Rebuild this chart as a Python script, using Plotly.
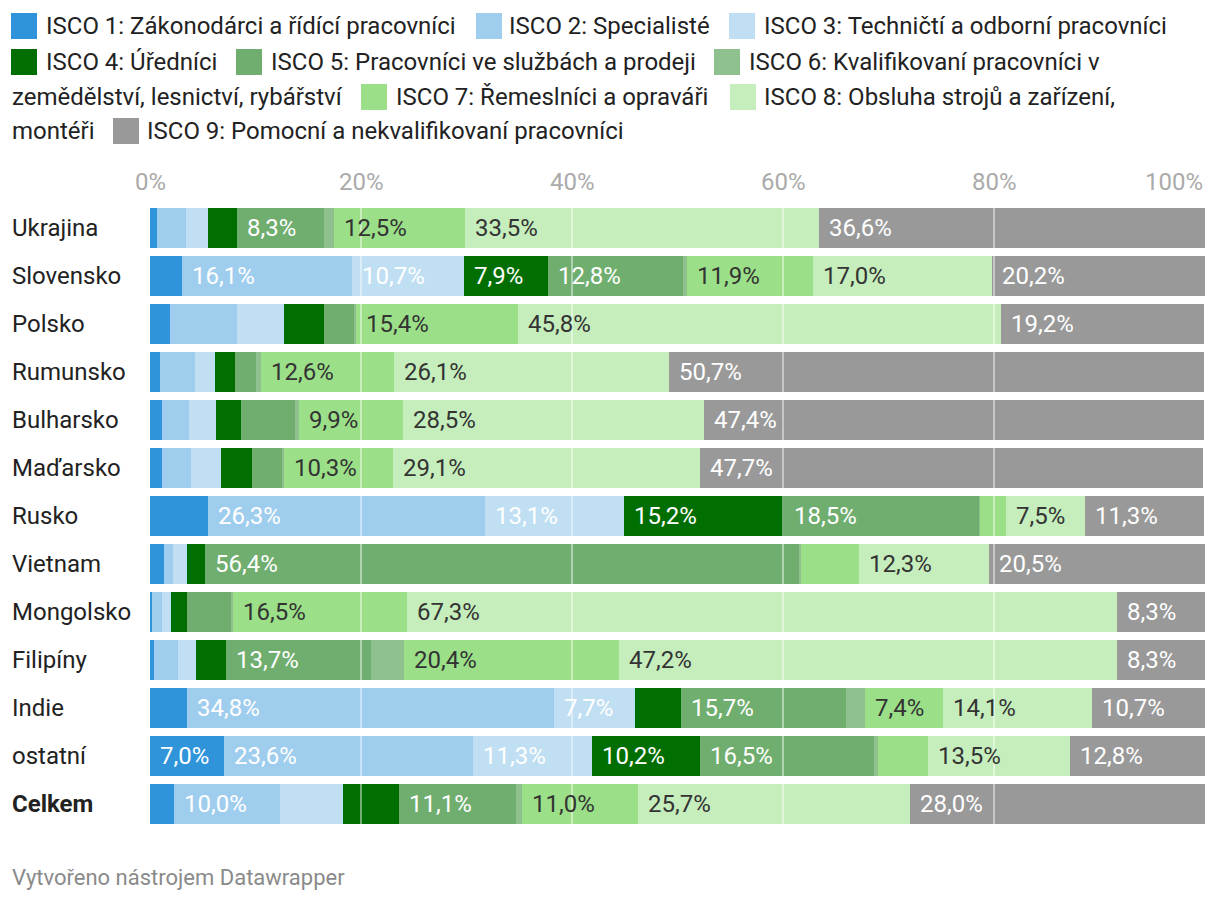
import plotly.graph_objects as go

countries = ["Ukrajina", "Slovensko", "Polsko", "Rumunsko", "Bulharsko", "Maďarsko",
             "Rusko", "Vietnam", "Mongolsko", "Filipíny", "Indie", "ostatní", "Celkem"]

series_names = [
    "ISCO 1: Zákonodárci a řídící pracovníci",
    "ISCO 2: Specialisté",
    "ISCO 3: Techničtí a odborní pracovníci",
    "ISCO 4: Úředníci",
    "ISCO 5: Pracovníci ve službách a prodeji",
    "ISCO 6: Kvalifikovaní pracovníci v zemědělství, lesnictví, rybářství",
    "ISCO 7: Řemeslníci a opraváři",
    "ISCO 8: Obsluha strojů a zařízení, montéři",
    "ISCO 9: Pomocní a nekvalifikovaní pracovníci",
]

isco1 = [0.7, 3.0, 1.9, 0.9, 1.1, 1.1, 5.5, 1.3, 0.2, 0.4, 3.5, 7.0, 2.3]
isco2 = [2.7, 16.1, 6.3, 3.4, 2.6, 2.8, 26.3, 0.9, 0.9, 2.3, 34.8, 23.6, 10.0]
isco3 = [2.1, 10.7, 4.5, 1.9, 2.6, 2.8, 13.1, 1.3, 0.9, 1.7, 7.7, 11.3, 6.0]
isco4 = [2.7, 7.9, 3.8, 1.9, 2.3, 3.0, 15.2, 1.7, 1.5, 2.8, 4.3, 10.2, 5.3]
isco5 = [8.3, 12.8, 2.8, 1.9, 5.1, 2.8, 18.5, 56.4, 4.2, 13.7, 15.7, 16.5, 11.1]
isco6 = [0.9, 0.4, 0.2, 0.5, 0.4, 0.2, 0.1, 0.1, 0.2, 3.2, 1.8, 0.4, 0.6]
isco7 = [12.5, 11.9, 15.4, 12.6, 9.9, 10.3, 2.4, 5.5, 16.5, 20.4, 7.4, 4.7, 11.0]
isco8 = [33.5, 17.0, 45.8, 26.1, 28.5, 29.1, 7.5, 12.3, 67.3, 47.2, 14.1, 13.5, 25.7]
isco9 = [36.6, 20.2, 19.2, 50.7, 47.4, 47.7, 11.3, 20.5, 8.3, 8.3, 10.7, 12.8, 28.0]

x_ticks = [0, 20, 40, 60, 80, 100]
x_tick_labels = ["0%", "20%", "40%", "60%", "80%", "100%"]

series = [isco1, isco2, isco3, isco4, isco5, isco6, isco7, isco8, isco9]
colors = ["#2f94da", "#9fcdee", "#c0dff3", "#006e00", "#6fae6f", "#8fc18f",
          "#9be088", "#c6eebc", "#999999"]
label_colors = ["#ffffff"] * 6 + ["#333333", "#333333", "#ffffff"]

FONT = "Roboto"
FS = 24
W, H = 1220, 900
ML, MR, MT, MB = 150, 15, 204, 72
PW, PH = W - ML - MR, H - MT - MB


def px_x(px):
    return (px - ML) / PW


def px_y(py):
    return (H - MB - py) / PH


fig = go.Figure()
for name, vals, col in zip(series_names, series, colors):
    fig.add_trace(go.Bar(
        y=countries, x=vals, name=name, orientation="h",
        marker=dict(color=col, line=dict(width=0)),
        hoverinfo="x+name", showlegend=False,
    ))

annotations = []
# value labels inside segments
for i, c in enumerate(countries):
    base = 0.0
    for k, vals in enumerate(series):
        v = vals[i]
        if v >= 7.0:
            annotations.append(dict(
                x=base, y=c, xref="x", yref="y", xanchor="left", yanchor="middle",
                text=f"{v:.1f}".replace(".", ",") + "%", showarrow=False, xshift=8,
                font=dict(family=FONT, size=FS, color=label_colors[k]),
            ))
        base += v

# category labels (left aligned)
for c in countries:
    txt = f"<b>{c}</b>" if c == "Celkem" else c
    annotations.append(dict(
        x=0, y=c, xref="paper", yref="y", xanchor="left", yanchor="middle",
        xshift=-(ML - 10), text=txt, showarrow=False,
        font=dict(family=FONT, size=FS, color="#222222"),
    ))

# top tick labels
for t, lab in zip(x_ticks, x_tick_labels):
    annotations.append(dict(
        x=t, y=1, xref="x", yref="paper", yanchor="bottom",
        xanchor="right" if t == 100 else "center", yshift=6,
        text=lab, showarrow=False, font=dict(family=FONT, size=FS, color="#aaaaaa"),
    ))

shapes = []
# gridlines above bars
for t in x_ticks[1:-1]:
    shapes.append(dict(type="line", xref="x", yref="paper", x0=t, x1=t, y0=0, y1=1,
                       line=dict(color="rgba(255,255,255,0.45)", width=2), layer="above"))

# manual legend (flowing text like the original)
leg_items = [
    # (color index, square x, text x, line center y, text)
    (0, 11, 44, 26, "ISCO 1: Zákonodárci a řídící pracovníci"),
    (1, 476, 507, 26, "ISCO 2: Specialisté"),
    (2, 729, 762, 26, "ISCO 3: Techničtí a odborní pracovníci"),
    (3, 11, 44, 62, "ISCO 4: Úředníci"),
    (4, 236, 269, 62, "ISCO 5: Pracovníci ve službách a prodeji"),
    (5, 714, 747, 62, "ISCO 6: Kvalifikovaní pracovníci v"),
    (None, None, 10, 97, "zemědělství, lesnictví, rybářství"),
    (6, 361, 394, 97, "ISCO 7: Řemeslníci a opraváři"),
    (7, 730, 762, 97, "ISCO 8: Obsluha strojů a zařízení,"),
    (None, None, 10, 131, "montéři"),
    (8, 113, 145, 131, "ISCO 9: Pomocní a nekvalifikovaní pracovníci"),
]
SQ = 26
for ci, sx, tx, cy, txt in leg_items:
    if ci is not None:
        shapes.append(dict(type="rect", xref="paper", yref="paper",
                           x0=px_x(sx), x1=px_x(sx + SQ),
                           y0=px_y(cy + SQ / 2), y1=px_y(cy - SQ / 2),
                           fillcolor=colors[ci], line=dict(width=0), layer="above"))
    annotations.append(dict(
        x=px_x(tx), y=px_y(cy), xref="paper", yref="paper", xanchor="left",
        yanchor="middle", text=txt, showarrow=False,
        font=dict(family=FONT, size=FS, color="#222222"),
    ))

# footer
annotations.append(dict(
    x=px_x(10), y=px_y(877), xref="paper", yref="paper", xanchor="left", yanchor="middle",
    text="Vytvořeno nástrojem Datawrapper", showarrow=False,
    font=dict(family=FONT, size=22, color="#8a8a8a"),
))

fig.update_layout(
    barmode="stack",
    bargap=0.15,
    width=W, height=H,
    margin=dict(l=ML, r=MR, t=MT, b=MB),
    paper_bgcolor="white", plot_bgcolor="white",
    xaxis=dict(range=[0, 100], showgrid=False, zeroline=False, showticklabels=False,
               fixedrange=True),
    yaxis=dict(categoryorder="array", categoryarray=countries,
               range=[len(countries) - 0.5, -0.5], showticklabels=False,
               showgrid=False, zeroline=False, fixedrange=True),
    annotations=annotations,
    shapes=shapes,
    font=dict(family=FONT),
)

fig.write_html("out.html")
